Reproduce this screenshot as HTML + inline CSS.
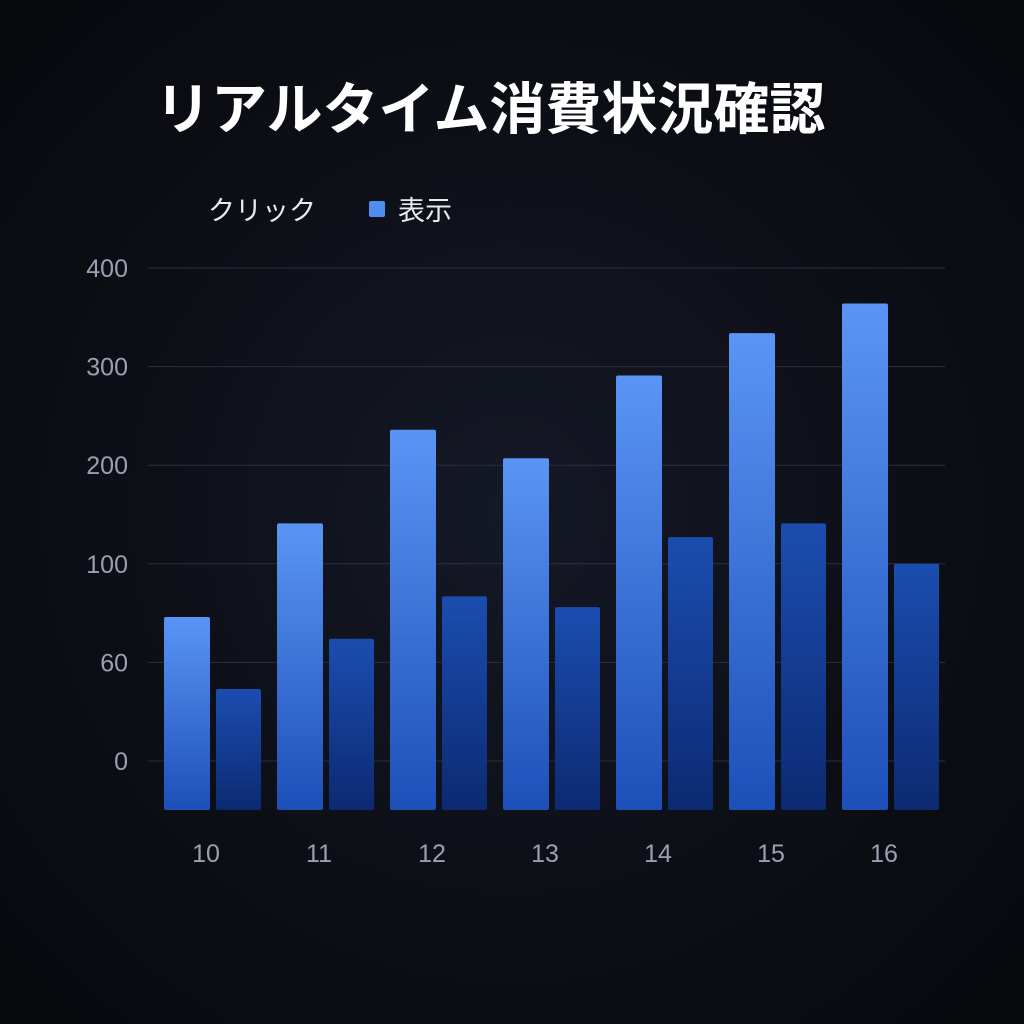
<!DOCTYPE html>
<html><head><meta charset="utf-8">
<style>
html,body{margin:0;padding:0;width:1024px;height:1024px;overflow:hidden;}
body{background:radial-gradient(ellipse at 50% 50%,#151926 0%,#0c0e15 60%,#08090d 100%);font-family:"Liberation Sans","Noto Sans CJK JP",sans-serif;}
svg{display:block}
</style></head>
<body>
<svg id="chart" width="1024" height="1024" xmlns="http://www.w3.org/2000/svg">
<defs>
<linearGradient id="gL" x1="0" y1="0" x2="0" y2="1"><stop offset="0" stop-color="#5a95f5"/><stop offset="1" stop-color="#1d4fb8"/></linearGradient>
<linearGradient id="gD" x1="0" y1="0" x2="0" y2="1"><stop offset="0" stop-color="#1b4db0"/><stop offset="1" stop-color="#0c2a72"/></linearGradient>
</defs>
<text x="155" y="129" font-size="56" font-weight="bold" fill="#ffffff" font-family="Liberation Sans, Noto Sans CJK JP, sans-serif">リアルタイム消費状況確認</text>
<text x="208" y="220" font-size="27" fill="#e8eaf0" font-family="Liberation Sans, Noto Sans CJK JP, sans-serif">クリック</text>
<rect x="369" y="201" width="16" height="16" rx="2" fill="#4f8ef0"/>
<text x="398" y="220" font-size="27" fill="#e8eaf0" font-family="Liberation Sans, Noto Sans CJK JP, sans-serif">表示</text>
<g id="grid"></g><g id="bars"></g><g id="xl"></g>
</svg>
<script>
const categories=["10","11","12","13","14","15","16"];
const impressions=[146,241,336,307,391,434,464];
const clicks=[73,124,167,156,227,241,200];
const tickLabels=["0","60","100","200","300","400"];
const tickValues=[0,100,200,300,400,500];
const NS="http://www.w3.org/2000/svg";
function y(v){return 761-v*0.986;}
const base=810;
function gx(i){return 164+i*113;}
const grid=document.getElementById('grid'),bars=document.getElementById('bars'),xl=document.getElementById('xl');
tickLabels.forEach((t,i)=>{
 const yy=761-i*98.6;
 const l=document.createElementNS(NS,'line');
 
 
 l.setAttribute('x1',148);l.setAttribute('x2',945);l.setAttribute('y1',yy);l.setAttribute('y2',yy);
 l.setAttribute('stroke','#2a2f40');l.setAttribute('stroke-width',1);grid.appendChild(l);
 const tx=document.createElementNS(NS,'text');
 
 
 tx.setAttribute('x',128);tx.setAttribute('y',yy+9);tx.setAttribute('text-anchor','end');
 tx.setAttribute('font-size',25);tx.setAttribute('fill','#9aa0b0');tx.textContent=t;grid.appendChild(tx);
});
categories.forEach((c,i)=>{
 const x=gx(i);
 const r1=document.createElementNS(NS,'rect');
 
 
 r1.setAttribute('x',x);r1.setAttribute('y',y(impressions[i]));r1.setAttribute('width',46);
 r1.setAttribute('height',base-y(impressions[i]));r1.setAttribute('rx',2);r1.setAttribute('fill','url(#gL)');
 bars.appendChild(r1);
 const r2=document.createElementNS(NS,'rect');
 
 
 r2.setAttribute('x',x+52);r2.setAttribute('y',y(clicks[i]));r2.setAttribute('width',45);
 r2.setAttribute('height',base-y(clicks[i]));r2.setAttribute('rx',2);r2.setAttribute('fill','url(#gD)');
 bars.appendChild(r2);
 const t=document.createElementNS(NS,'text');
 
 
 t.setAttribute('x',x+42);t.setAttribute('y',862);t.setAttribute('text-anchor','middle');
 t.setAttribute('font-size',25);t.setAttribute('fill','#9aa0b0');t.textContent=c;xl.appendChild(t);
});
</script>
</body></html>
